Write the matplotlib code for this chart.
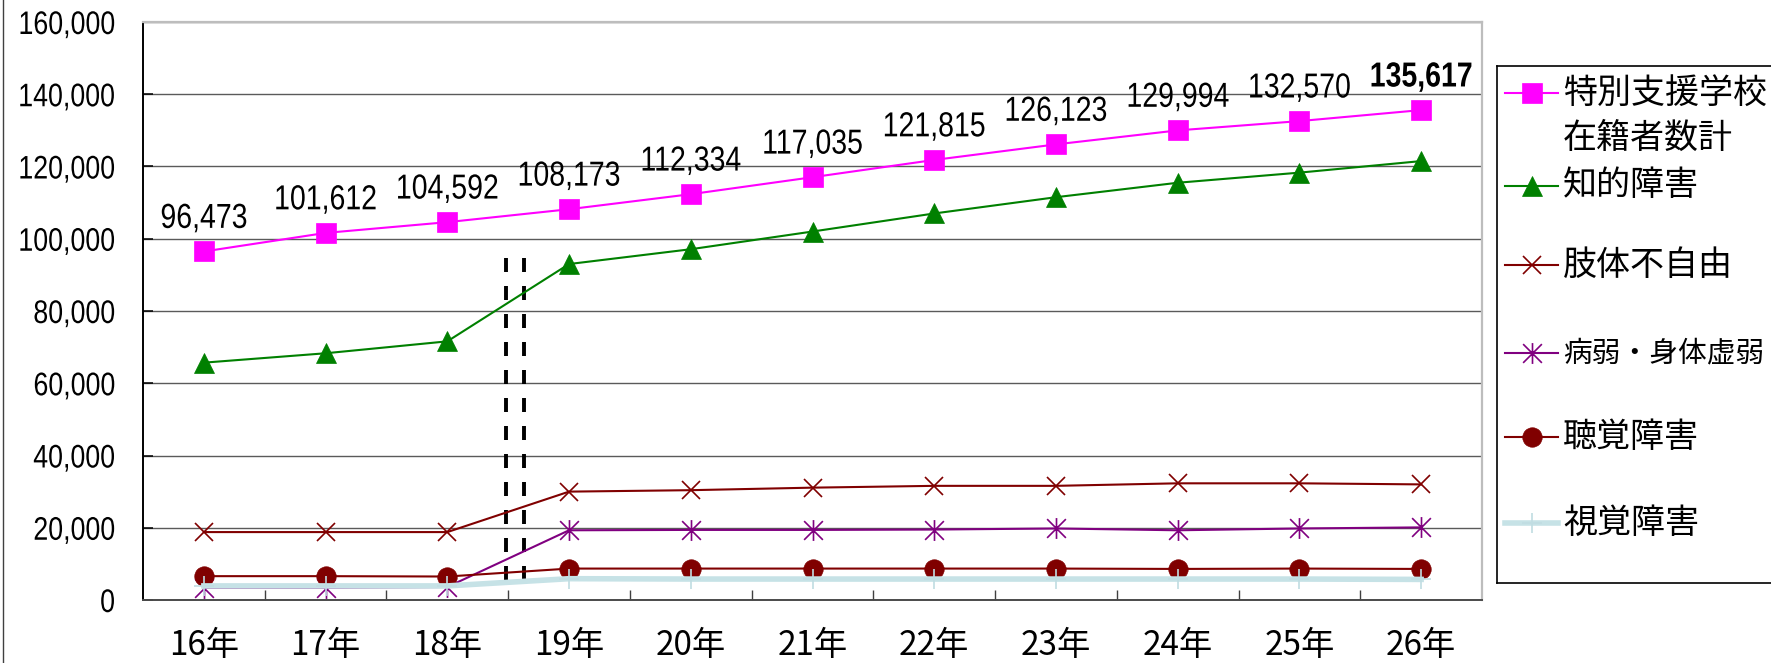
import numpy as np
import matplotlib
matplotlib.use("Agg")
import matplotlib.pyplot as plt
from matplotlib import font_manager
from matplotlib.path import Path
from matplotlib.lines import Line2D
from matplotlib.transforms import Affine2D
from matplotlib.patheffects import AbstractPathEffect

# ---- data -------------------------------------------------------------
years = ["16年", "17年", "18年", "19年", "20年", "21年",
         "22年", "23年", "24年", "25年", "26年"]

total = [96473, 101612, 104592, 108173, 112334, 117035,
         121815, 126123, 129994, 132570, 135617]
intellectual = [65700, 68300, 71600, 93000, 97100, 102000,
                107000, 111500, 115500, 118300, 121500]
physical = [18800, 18800, 18800, 30000, 30400, 31100,
            31600, 31600, 32300, 32300, 32000]
health = [3400, 3400, 3600, 19300, 19400, 19400,
          19500, 19800, 19300, 19800, 20100]
hearing = [6600, 6600, 6500, 8700, 8700, 8700,
           8700, 8700, 8600, 8700, 8600]
visual = [3900, 3900, 3900, 5900, 5800, 5800,
          5800, 5800, 5800, 5800, 5700]

series_labels = ["特別支援学校\n在籍者数計", "知的障害", "肢体不自由",
                 "病弱・身体虚弱", "聴覚障害", "視覚障害"]
y_ticks = list(range(0, 160001, 20000))

# double dashed break between the two survey periods
break_x = (2.48, 2.63)
break_y = (5500, 95000)

# ---- fonts ------------------------------------------------------------
available = {f.name for f in font_manager.fontManager.ttflist}
if "Liberation Sans Narrow" in available:
    NUM_FONT, NUM_SQUEEZE = ["Liberation Sans Narrow"], 1.0
else:
    NUM_FONT, NUM_SQUEEZE = ["Liberation Sans"], 0.82
JP_FONT = ["Noto Sans CJK JP", "DejaVu Sans"]


class HSqueeze(AbstractPathEffect):
    """Draw text glyphs narrowed horizontally around an anchor."""

    def __init__(self, sx, anchor="center"):
        super().__init__()
        self.sx = sx
        self.anchor = anchor

    def draw_path(self, renderer, gc, tpath, affine, rgbFace=None):
        ext = tpath.get_extents()
        if self.anchor == "right":
            c = ext.x1
        elif self.anchor == "left":
            c = ext.x0
        else:
            c = 0.5 * (ext.x0 + ext.x1)
        squeeze = Affine2D().translate(-c, 0).scale(self.sx, 1.0).translate(c, 0)
        renderer.draw_path(gc, tpath, squeeze + affine, rgbFace)


# ---- figure -----------------------------------------------------------
W, H = 1771, 663
fig = plt.figure(figsize=(W / 100, H / 100), dpi=100)
fig.patch.set_facecolor("white")


def px_rect(left, top, right, bottom):
    return [left / W, 1 - bottom / H, (right - left) / W, (bottom - top) / H]


ax = fig.add_axes(px_rect(143, 22, 1482, 600))

# asterisk marker: an X with a vertical stroke
ast_path = Path([(-0.9, -0.9), (0.9, 0.9), (-0.9, 0.9), (0.9, -0.9), (0, -1), (0, 1)],
                [Path.MOVETO, Path.LINETO] * 3)

styles = [
    dict(color="#FF00FF", lw=1.5, marker="s", ms=13.7, mfc="#FF00FF", mec="#FF00FF", mew=0.5),
    dict(color="#008000", lw=1.5, marker="^", ms=14, mfc="#008000", mec="#008000", mew=0.5),
    dict(color="#800000", lw=1.5, marker="x", ms=13.5, mec="#800000", mew=1.2),
    dict(color="#800080", lw=1.5, marker=ast_path, ms=15, mec="#800080", mfc="none", mew=1.2),
    dict(color="#800000", lw=1.5, marker="o", ms=14, mfc="#800000", mec="#800000", mew=0.5),
    dict(color="#C6E2E6", lw=4.0, marker="+", ms=14.5, mec="#C0DDE2", mew=1.2,
         solid_capstyle="projecting"),
]
values = [total, intellectual, physical, health, hearing, visual]

x = np.arange(len(years))
for z, (vals, st) in enumerate(zip(values, styles)):
    ax.plot(x, vals, zorder=3 + z, **st)

# value labels for the total
for i, v in enumerate(total):
    bold = i == len(total) - 1
    ax.annotate(f"{v:,}", (x[i], v), xytext=(0, 17), textcoords="offset points",
                ha="center", va="baseline", fontsize=25, family=NUM_FONT,
                fontweight="bold" if bold else "normal", color="black", zorder=10,
                path_effects=[HSqueeze(NUM_SQUEEZE, "center")])

# break marker
for bx in break_x:
    ax.plot([bx, bx], break_y, color="black", lw=2.8, dashes=(3.6, 3.6), zorder=2)

# axes styling
ax.set_xlim(-0.5, len(years) - 0.5)
ax.set_ylim(0, 160000)
ax.set_yticks(y_ticks)
ax.set_yticklabels([f"{t:,}" for t in y_ticks], family=NUM_FONT, fontsize=23.5)
ax.set_xticks(x)
ax.set_xticklabels(years, family=JP_FONT, fontsize=24)
ax.set_xticks(np.arange(0.5, len(years) - 1, 1.0), minor=True)
ax.tick_params(axis="x", which="major", length=0, pad=20)
ax.tick_params(axis="x", which="minor", direction="in", length=7.5, width=1.0, color="#404040")
ax.tick_params(axis="y", which="major", direction="in", length=7.5, width=1.1,
               color="black", pad=20)
for lbl in ax.get_yticklabels():
    lbl.set_path_effects([HSqueeze(NUM_SQUEEZE, "right")])
ax.yaxis.grid(True, color="#5A5A5A", lw=1.0, zorder=1)
ax.set_axisbelow(True)

ax.spines["left"].set_color("black")
ax.spines["left"].set_linewidth(1.4)
ax.spines["bottom"].set_color("#4A4A4A")
ax.spines["bottom"].set_linewidth(1.4)
for side in ("top", "right"):
    ax.spines[side].set_color("#BDBDBD")
    ax.spines[side].set_linewidth(1.6)

# outer border on the left edge of the chart
fig.add_artist(Line2D([3.5 / W, 3.5 / W], [0, 1], transform=fig.transFigure,
                      color="#404040", lw=1.0))

# ---- legend (pixel-coordinate panel) ----------------------------------
lax = fig.add_axes(px_rect(1497, 66, 1800, 583))
lax.set_xlim(1497, 1800)
lax.set_ylim(583, 66)
lax.set_xticks([])
lax.set_yticks([])
lax.patch.set_facecolor("white")
for side in lax.spines.values():
    side.set_color("black")
    side.set_linewidth(1.2)

rows = [93, 186, 265, 353, 437, 523]
for label, st, ry in zip(series_labels, styles, rows):
    line_kw = {k: v for k, v in st.items() if k not in ("marker", "ms", "mfc", "mec", "mew")}
    lax.plot([1505, 1558], [ry, ry], **line_kw)
    mk = {k: v for k, v in st.items() if k in ("marker", "ms", "mfc", "mec", "mew")}
    lax.plot([1531.5], [ry], ls="none", **mk)
    for j, part in enumerate(label.split("\n")):
        # long entries are set smaller so they stay inside the panel
        fs = 24.5 if len(part) <= 6 else 24.5 * 6.0 / len(part) * 0.985
        lax.text(1563, ry + 45 * j, part, ha="left", va="center",
                 fontsize=fs, family=JP_FONT, color="black")

fig.savefig("out.png", dpi=100)
